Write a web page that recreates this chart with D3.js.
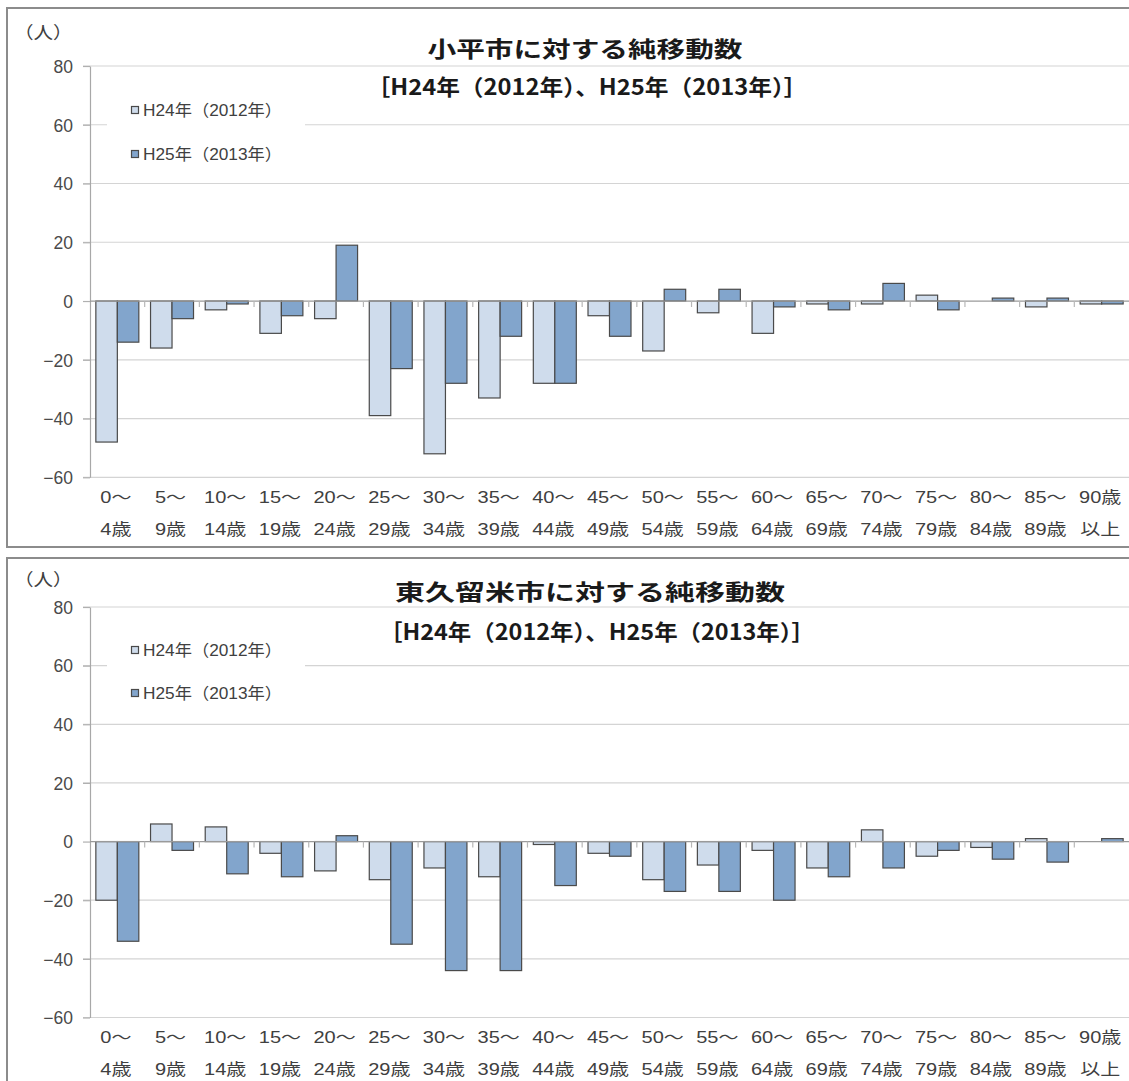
<!DOCTYPE html>
<html>
<head>
<meta charset="utf-8">
<script src="https://cdn.jsdelivr.net/npm/d3@7/dist/d3.min.js"></script>
<style>
  html, body { margin: 0; padding: 0; background: #fff; }
  svg { display: block; }
</style>
</head>
<body>
<div id="chart"></div>
<script>
// Age groups (two-line tick labels)
const ageLine1 = ["0〜","5〜","10〜","15〜","20〜","25〜","30〜","35〜","40〜","45〜",
                  "50〜","55〜","60〜","65〜","70〜","75〜","80〜","85〜","90歳"];
const ageLine2 = ["4歳","9歳","14歳","19歳","24歳","29歳","34歳","39歳","44歳","49歳",
                  "54歳","59歳","64歳","69歳","74歳","79歳","84歳","89歳","以上"];

const seriesNames = ["H24年（2012年）", "H25年（2013年）"];
const yTicks = [80, 60, 40, 20, 0, -20, -40, -60];

// 小平市に対する純移動数
const kodaira2012 = [-48,-16,-3,-11,-6,-39,-52,-33,-28,-5,-17,-4,-11,-1,-1,2,0,-2,-1];
const kodaira2013 = [-14,-6,-1,-5,19,-23,-28,-12,-28,-12,4,4,-2,-3,6,-3,1,1,-1];

// 東久留米市に対する純移動数
const higashi2012 = [-20,6,5,-4,-10,-13,-9,-12,-1,-4,-13,-8,-3,-9,4,-5,-2,1,0];
const higashi2013 = [-34,-3,-11,-12,2,-35,-44,-44,-15,-5,-17,-17,-20,-12,-9,-3,-6,-7,1];

const subtitle = "［H24年（2012年）、H25年（2013年）］";

const W = 1129, H = 1081;
const colors = ["#cfdcec", "#82a5cc"];
const barStroke = "#4a4a4a";
const jpFont = "'Liberation Sans', Arial, 'Noto Sans CJK JP', sans-serif";
const titleFont = "'Noto Sans CJK JP', sans-serif";

const svg = d3.select("#chart").append("svg")
  .attr("width", W).attr("height", H);

const panels = [
  {
    title: "小平市に対する純移動数", h24: kodaira2012, h25: kodaira2013,
    frameTop: 8, frameBottom: 547,
    plotTop: 66, plotBottom: 477.3,
    unitY: 39, titleY: 57, titleW: 315, titleX: 585,
    subY: 95, subW: 441, subX: 587,
    legendY: [110, 154], legendBox: [88, 176],
    catY: [503, 535]
  },
  {
    title: "東久留米市に対する純移動数", h24: higashi2012, h25: higashi2013,
    frameTop: 558, frameBottom: 1100,
    plotTop: 607, plotBottom: 1017.5,
    unitY: 586, titleY: 600, titleW: 390, titleX: 590,
    subY: 640, subW: 436, subX: 597,
    legendY: [650, 693], legendBox: [630, 714],
    catY: [1043, 1075]
  }
];

const plotLeft = 90, plotRight = 1129;

panels.forEach(p => {
  const g = svg.append("g");

  const x = d3.scaleBand()
    .domain(d3.range(ageLine1.length))
    .range([plotLeft, plotRight])
    .paddingInner(0.214)
    .paddingOuter(0.107);

  const xs = d3.scaleBand()
    .domain([0, 1])
    .range([0, x.bandwidth()]);

  const y = d3.scaleLinear()
    .domain([-60, 80])
    .range([p.plotBottom, p.plotTop]);

  // panel frame
  g.append("rect")
    .attr("x", 7).attr("y", p.frameTop)
    .attr("width", W + 20).attr("height", p.frameBottom - p.frameTop)
    .attr("fill", "none").attr("stroke", "#8c8c8c").attr("stroke-width", 2);

  // horizontal gridlines
  g.append("g").selectAll("line")
    .data(yTicks.filter(v => v !== 0))
    .join("line")
    .attr("x1", plotLeft - 7).attr("x2", plotRight)
    .attr("y1", d => y(d)).attr("y2", d => y(d))
    .attr("stroke", "#d4d4d4").attr("stroke-width", 1.2);

  // legend background
  g.append("rect")
    .attr("x", 107).attr("y", p.legendBox[0])
    .attr("width", 198).attr("height", p.legendBox[1] - p.legendBox[0])
    .attr("fill", "#fff");

  // y axis
  const yAxis = d3.axisLeft(y).tickValues(yTicks).tickSize(7).tickSizeOuter(0)
    .tickFormat(d3.format("d"));
  const ya = g.append("g").attr("transform", `translate(${plotLeft},0)`).call(yAxis);
  ya.select(".domain").attr("stroke", "#a8a8a8").attr("stroke-width", 1.2);
  ya.selectAll(".tick line").attr("stroke", "#b0b0b0").attr("stroke-width", 1.2);
  ya.selectAll(".tick text")
    .attr("x", -17)
    .attr("dy", "0.36em")
    .attr("fill", "#4a4a4a")
    .style("font-family", "'Liberation Sans', Arial, sans-serif")
    .style("font-size", "17.5px");

  // bars
  const series = [p.h24, p.h25];
  series.forEach((vals, si) => {
    g.append("g").selectAll("rect")
      .data(vals.map((v, i) => ({ i, v })).filter(d => d.v !== 0))
      .join("rect")
      .attr("x", d => x(d.i) + xs(si))
      .attr("width", xs.bandwidth())
      .attr("y", d => y(Math.max(0, d.v)))
      .attr("height", d => Math.abs(y(d.v) - y(0)))
      .attr("fill", colors[si])
      .attr("stroke", barStroke)
      .attr("stroke-width", 1.2);
  });

  // zero line with category tick marks
  g.append("line")
    .attr("x1", plotLeft).attr("x2", plotRight)
    .attr("y1", y(0)).attr("y2", y(0))
    .attr("stroke", "#9a9a9a").attr("stroke-width", 1.2);
  const step = x.step();
  g.append("g").selectAll("line")
    .data(d3.range(1, ageLine1.length))
    .join("line")
    .attr("x1", i => plotLeft + i * step).attr("x2", i => plotLeft + i * step)
    .attr("y1", y(0)).attr("y2", y(0) + 6)
    .attr("stroke", "#b8b8b8").attr("stroke-width", 1.2);

  // category labels (two lines)
  [ageLine1, ageLine2].forEach((labels, li) => {
    g.append("g").selectAll("text")
      .data(labels)
      .join("text")
      .attr("transform", (d, i) => `translate(${x(i) + x.bandwidth() / 2 - 1.5},${p.catY[li]}) scale(1.25,1)`)
      .attr("text-anchor", "middle")
      .attr("fill", "#404040")
      .style("font-family", jpFont)
      .style("font-size", "16px")
      .text(d => d);
  });

  // unit label
  g.append("text")
    .attr("transform", `translate(14,${p.unitY}) scale(1.15,1)`)
    .attr("fill", "#404040")
    .style("font-family", titleFont)
    .style("font-size", "17px")
    .text("（人）");

  // titles
  g.append("text")
    .attr("x", p.titleX).attr("y", p.titleY)
    .attr("text-anchor", "middle")
    .attr("textLength", p.titleW).attr("lengthAdjust", "spacingAndGlyphs")
    .attr("fill", "#1a1a1a")
    .style("font-family", titleFont).style("font-weight", "bold")
    .style("font-size", "22px")
    .text(p.title);
  g.append("text")
    .attr("x", p.subX).attr("y", p.subY)
    .attr("text-anchor", "middle")
    .attr("textLength", p.subW).attr("lengthAdjust", "spacingAndGlyphs")
    .attr("fill", "#1a1a1a")
    .style("font-family", titleFont).style("font-weight", "bold")
    .style("font-size", "22px")
    .text(subtitle);

  // legend
  seriesNames.forEach((name, si) => {
    const ly = p.legendY[si];
    g.append("rect")
      .attr("x", 131.5).attr("y", ly - 3.5)
      .attr("width", 7).attr("height", 7)
      .attr("fill", colors[si]).attr("stroke", barStroke).attr("stroke-width", 1.2);
    g.append("text")
      .attr("x", 143).attr("y", ly + 5.5)
      .attr("textLength", 139).attr("lengthAdjust", "spacingAndGlyphs")
      .attr("fill", "#404040")
      .style("font-family", jpFont)
      .style("font-size", "16px")
      .text(name);
  });
});
</script>
</body>
</html>
